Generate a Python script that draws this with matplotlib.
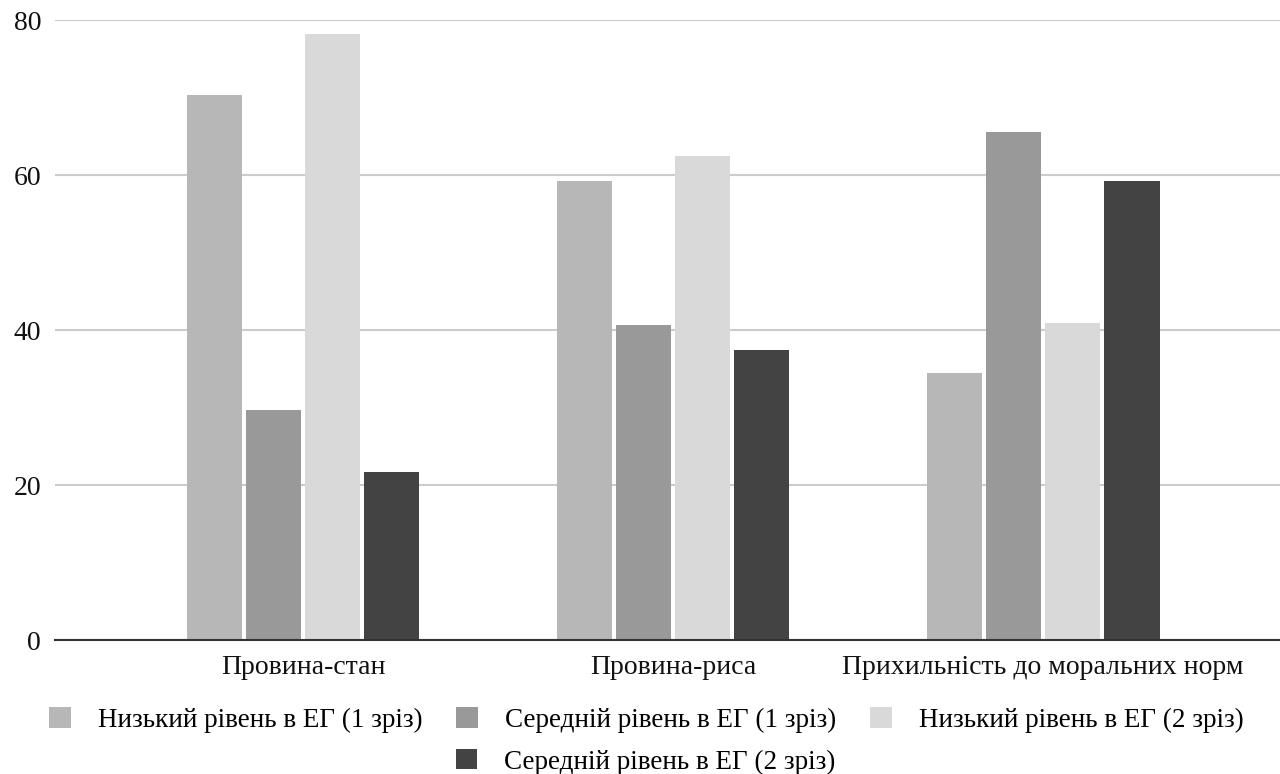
import numpy as np
import matplotlib.pyplot as plt
from matplotlib.patches import Patch

plt.rcParams['font.family'] = ['Liberation Serif', 'DejaVu Serif']

# Data
categories = ['Провина-стан', 'Провина-риса', 'Прихильність до моральних норм']
series_names = ['Низький рівень в ЕГ (1 зріз)', 'Середній рівень в ЕГ (1 зріз)',
                'Низький рівень в ЕГ (2 зріз)', 'Середній рівень в ЕГ (2 зріз)']
low_1 = [70.3, 59.3, 34.5]
mid_1 = [29.7, 40.7, 65.5]
low_2 = [78.2, 62.5, 40.9]
mid_2 = [21.7, 37.4, 59.3]
colors = ['#b7b7b7', '#999999', '#d9d9d9', '#434343']

fig = plt.figure(figsize=(12.8, 7.74), dpi=100)
ax = fig.add_axes([0.043, 0.173, 0.957, 0.801])

x = np.arange(len(categories))
width = 0.149
offsets = [-0.24, -0.08, 0.08, 0.24]
for vals, off, c in zip([low_1, mid_1, low_2, mid_2], offsets, colors):
  ax.bar(x + off, vals, width, color=c, zorder=3)

ax.set_xlim(-0.67, 2.64)
ax.set_ylim(0, 80)
ax.set_yticks([0, 20, 40, 60, 80])
ax.set_xticks(x)
ax.set_xticklabels(categories)
ax.tick_params(axis='both', length=0, labelsize=20, colors='#111111')
ax.tick_params(axis='y', pad=10)
ax.tick_params(axis='x', pad=11)
ax.grid(axis='y', color='#cccccc', linewidth=1.5, zorder=0)
for s in ['top', 'right', 'left']:
  ax.spines[s].set_visible(False)
ax.spines['bottom'].set_color('#333333')
ax.spines['bottom'].set_linewidth(1.5)
ax.spines['bottom'].set_zorder(4)

handles = [Patch(facecolor=c) for c in colors]
fig.legend(handles[:3], series_names[:3], loc='center', bbox_to_anchor=(0.505, 0.07),
           ncol=3, frameon=False, fontsize=19.5, handlelength=0.8, handleheight=0.8,
           handletextpad=1.0, columnspacing=1.25)
# second row starts under the second entry
fig.legend(handles[3:], series_names[3:], loc='center left', bbox_to_anchor=(0.337, 0.016),
           frameon=False, fontsize=19.5, handlelength=0.8, handleheight=0.8,
           handletextpad=1.0)

fig.savefig('out.png', dpi=100)
